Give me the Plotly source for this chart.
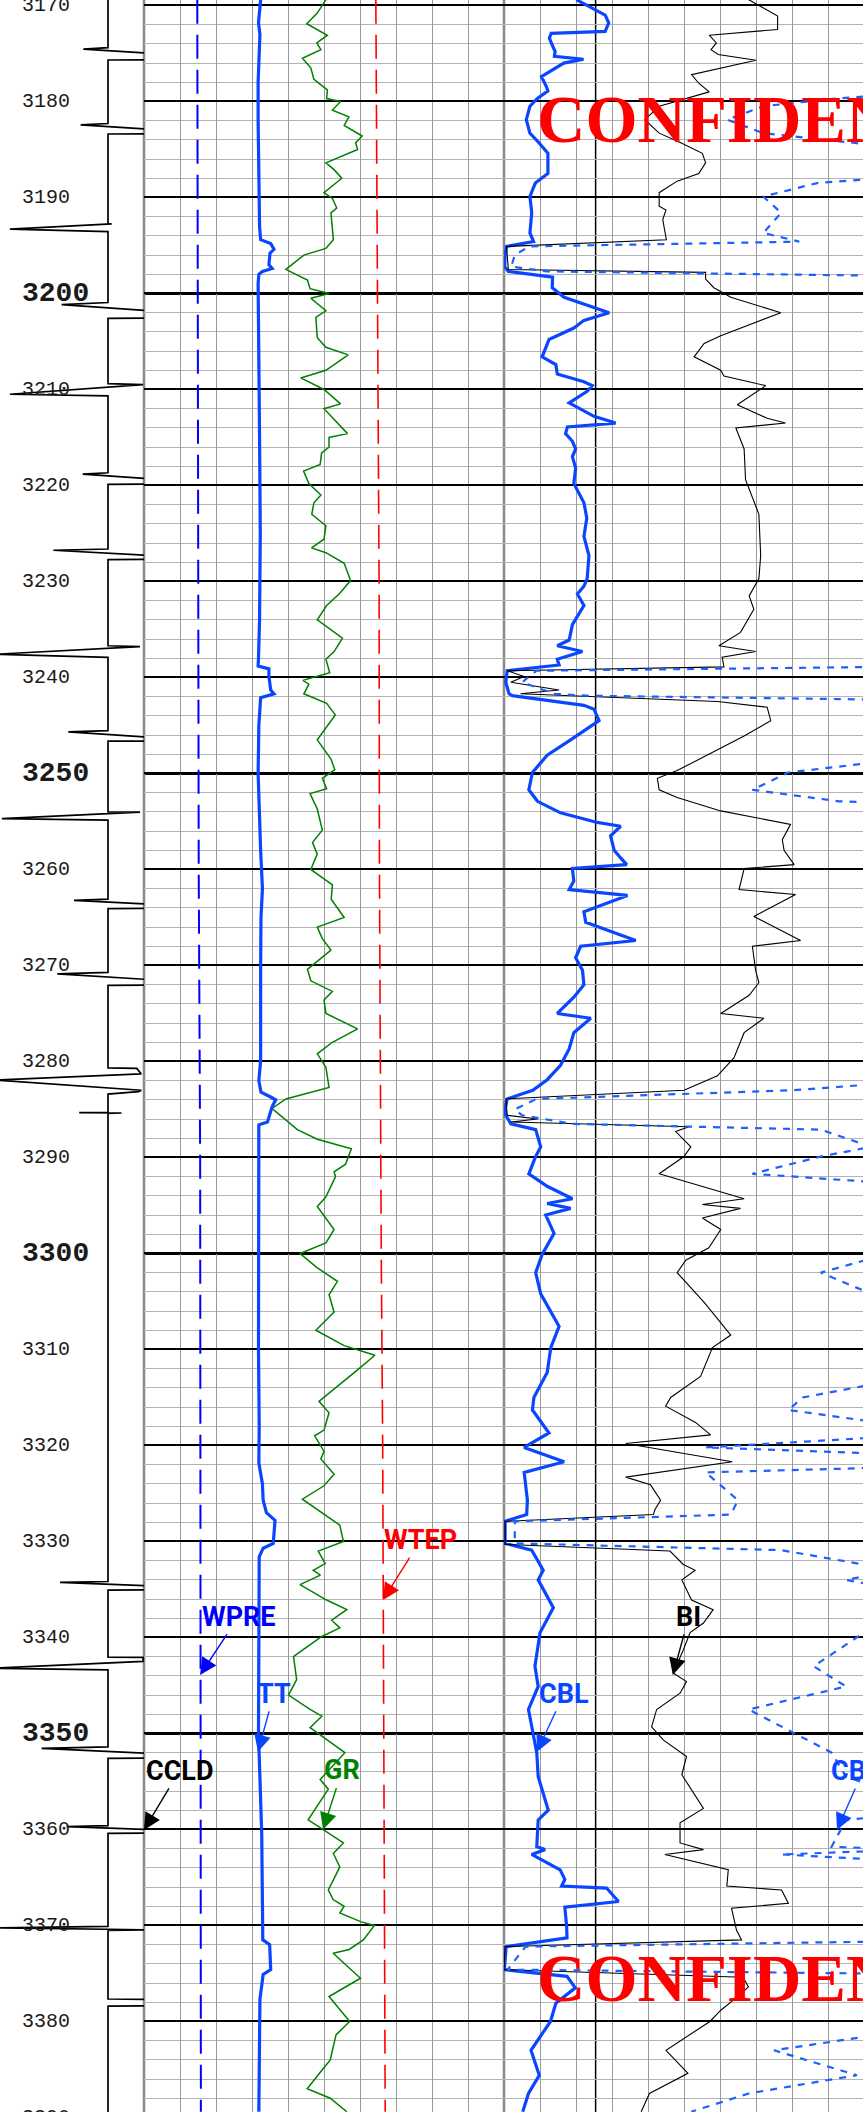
import plotly.graph_objects as go

W, H = 863, 2112
DEPTH_TOP, DEPTH_BOT = 3169.43, 3389.43

depth_labels = [3170, 3180, 3190, 3200, 3210, 3220, 3230, 3240, 3250, 3260, 3270, 3280,
                3290, 3300, 3310, 3320, 3330, 3340, 3350, 3360, 3370, 3380, 3390]
bold_labels = [3200, 3250, 3300, 3350]

# CCLD (casing collar locator), arbitrary units, baseline 0
ccl_depth = [3169.4,
             3174.40, 3174.55, 3174.97, 3175.66, 3175.68,
             3182.30, 3182.43, 3182.88, 3183.37, 3183.39,
             3192.72, 3192.76, 3193.30, 3193.55,
             3200.94, 3201.17, 3201.80, 3202.57, 3202.59,
             3209.40, 3209.50, 3210.50, 3210.66,
             3218.68, 3218.82, 3219.30, 3219.86, 3219.88,
             3226.62, 3226.75, 3227.28, 3227.70, 3227.72,
             3236.70, 3236.78, 3237.58, 3237.90,
             3245.54, 3245.67, 3246.22, 3246.62, 3246.64,
             3254.00, 3254.02, 3254.70, 3254.86,
             3263.09, 3263.22, 3263.62, 3264.06, 3264.08,
             3270.72, 3270.88, 3271.47, 3272.05, 3272.07,
             3280.66, 3280.72, 3281.30, 3281.94, 3283.00, 3283.15, 3283.40,
             3285.30, 3285.33, 3285.37, 3285.40,
             3334.17, 3334.27, 3334.62, 3335.04, 3335.06,
             3342.05, 3342.08, 3342.50, 3343.20, 3343.37,
             3351.40, 3351.55, 3352.07, 3352.57, 3352.59,
             3359.60, 3359.70, 3360.00, 3360.38, 3360.40,
             3370.10, 3370.25, 3370.45, 3370.52,
             3377.66, 3377.70, 3378.38, 3378.40,
             3389.43]
ccl_value = [0,
             0, -2.74, 4.6, 4.6, 0,
             0, -3.04, 4.6, 4.6, 0,
             0, 0.4, -10.9, 0,
             0, -5.15, 4.6, 4.6, 0,
             0, 3.9, -10.9, 0,
             0, -2.81, 4.6, 4.6, 0,
             0, -6.07, 4.6, 4.6, 0,
             0, 3.56, -12.5, 0,
             0, -4.41, 4.6, 4.6, 0,
             0, 3.56, -11.8, 0,
             0, -3.78, 4.6, 4.6, 0,
             0, -5.63, 4.6, 4.6, 0,
             0, 3.2, 3.7, -12.5, 3.7, 3.4, 0,
             0, -3.2, 1.5, 0,
             0, -5.33, 4.6, 4.6, 0,
             0, 3.9, 3.9, -13.0, 0,
             0, -7.37, 4.6, 4.6, 0,
             0, -4.59, 4.6, 4.6, 0,
             0, -12.8, 4.3, 0,
             0, 4.6, 4.6, 0,
             0]

# WPRE (psi)
wpre_depth = [3169.4, 3200, 3230, 3260, 3290, 3320, 3350, 3389.4]
wpre_psi = [740, 745, 755, 760, 780, 785, 790, 790]

# WTEP (deg)
wtep_depth = [3169.4, 3200, 3230, 3260, 3280, 3300, 3320, 3340, 3370, 3389.4]
wtep_deg = [128.8, 129.6, 130.6, 130.8, 131.2, 131.8, 132.6, 133.0, 133.6, 134.0]

# TT (us)
tt_depth = [3169.4, 3171.8, 3173.0, 3176.0, 3178.0, 3182.0, 3186.0, 3190.0, 3193.0, 3194.4,
            3194.8, 3195.4, 3195.8, 3197.0, 3197.4, 3197.7, 3198.0, 3199.0, 3205.0, 3215.0,
            3225.0, 3230.0, 3234.0, 3238.0, 3238.8, 3239.1, 3239.9, 3241.3, 3241.7, 3242.1,
            3245.0, 3250.0, 3255.0, 3258.0, 3262.0, 3265.0, 3270.0, 3275.0, 3279.9, 3282.0,
            3283.2, 3283.7, 3284.0, 3284.7, 3286.3, 3286.6, 3290.0, 3300.0, 3310.0, 3318.0,
            3321.8, 3324.0, 3325.7, 3327.0, 3327.8, 3330.2, 3330.7, 3331.6, 3340.0, 3350.0,
            3360.4, 3366.0, 3371.5, 3372.0, 3374.6, 3375.1, 3377.7, 3389.4]
tt_us = [335.2, 336.4, 335.6, 336.0, 336.6, 336.6, 336.2, 336.0, 335.8, 335.2,
         329.6, 327.8, 330.0, 330.6, 328.8, 334.2, 336.2, 336.6, 336.2, 335.8,
         335.4, 335.4, 335.8, 336.4, 336.6, 330.6, 330.6, 329.6, 327.8, 335.2,
         336.2, 336.6, 336.0, 335.2, 334.2, 335.0, 335.2, 335.2, 335.2, 336.2,
         335.0, 329.6, 326.8, 328.8, 331.4, 336.2, 336.2, 336.6, 336.4, 336.0,
         336.2, 334.2, 333.8, 332.0, 327.2, 328.2, 333.8, 336.0, 336.0, 336.4,
         334.6, 334.2, 334.0, 330.2, 329.6, 333.8, 335.6, 336.2]

# GR (API)
gr_depth = [3169.4, 3170.8, 3171.9, 3173.1, 3173.9, 3174.6, 3175.5, 3176.5, 3177.7, 3178.8,
            3179.7, 3180.0, 3180.9, 3181.6, 3182.5, 3183.6, 3184.3, 3185.0, 3186.4, 3187.1,
            3188.0, 3189.5, 3190.1, 3191.1, 3191.6, 3194.4, 3195.3, 3196.0, 3197.5, 3198.6,
            3199.5, 3200.0, 3200.5, 3201.8, 3202.5, 3204.6, 3205.6, 3206.4, 3208.0, 3208.8,
            3210.0, 3211.5, 3212.0, 3214.6, 3215.0, 3216.0, 3216.6, 3217.8, 3218.5, 3219.8,
            3221.0, 3221.8, 3223.0, 3224.2, 3225.6, 3226.5, 3227.0, 3228.1, 3229.9, 3231.3,
            3232.5, 3234.0, 3235.9, 3237.3, 3238.1, 3239.5, 3240.3, 3240.7, 3241.7, 3242.7,
            3243.9, 3246.5, 3248.5, 3249.6, 3250.5, 3251.6, 3252.1, 3253.7, 3255.9, 3257.2,
            3258.4, 3260.0, 3261.6, 3263.1, 3265.0, 3266.0, 3267.2, 3268.4, 3270.4, 3271.6,
            3272.7, 3273.6, 3275.0, 3276.6, 3278.0, 3279.2, 3280.6, 3282.7, 3283.9, 3284.9,
            3287.1, 3288.1, 3289.1, 3290.7, 3291.5, 3292.0, 3294.1, 3295.1, 3297.5, 3298.9,
            3300.0, 3301.5, 3302.9, 3304.3, 3306.1, 3308.0, 3309.6, 3310.6, 3312.0, 3313.8,
            3315.4, 3316.6, 3318.4, 3319.0, 3320.6, 3321.4, 3323.0, 3324.2, 3325.6, 3328.3,
            3330.0, 3331.0, 3332.3, 3333.0, 3333.5, 3334.5, 3336.1, 3337.1, 3338.2, 3339.0,
            3339.9, 3341.5, 3342.0, 3344.4, 3346.0, 3347.5, 3348.2, 3349.4, 3352.0, 3354.8,
            3355.8, 3359.0, 3360.0, 3361.4, 3362.5, 3363.9, 3366.3, 3367.3, 3368.0, 3368.7,
            3369.6, 3370.0, 3371.5, 3372.5, 3372.9, 3375.5, 3377.4, 3380.0, 3381.4, 3384.0,
            3385.4, 3387.0, 3388.0, 3389.4]
gr_api = [75.8, 72.2, 67.8, 76.4, 72.0, 73.7, 66.0, 69.5, 70.8, 76.4,
          76.1, 81.9, 78.5, 85.4, 83.4, 90.9, 88.2, 89.0, 75.8, 79.2,
          82.4, 75.0, 78.5, 80.3, 77.9, 78.9, 75.8, 66.6, 59.1, 68.1,
          69.2, 77.1, 69.5, 75.8, 71.6, 72.2, 75.8, 85.1, 75.8, 65.3,
          75.0, 81.9, 75.0, 84.8, 77.1, 77.1, 74.0, 73.4, 66.5, 68.7,
          73.7, 70.8, 69.9, 75.8, 75.0, 69.8, 75.8, 83.4, 86.1, 81.3,
          76.1, 72.2, 82.7, 79.2, 75.8, 77.4, 66.2, 68.7, 66.6, 76.1,
          79.7, 72.2, 77.9, 79.5, 74.3, 76.1, 69.2, 72.2, 74.3, 70.2,
          72.2, 69.5, 78.5, 78.0, 83.4, 72.2, 74.3, 77.9, 68.1, 69.5,
          78.5, 75.0, 75.8, 89.0, 78.5, 72.2, 75.8, 77.1, 59.1, 53.4,
          63.9, 72.2, 86.4, 84.0, 79.2, 79.8, 75.8, 72.2, 79.2, 75.8,
          65.0, 72.2, 80.6, 77.1, 79.2, 71.6, 83.4, 96.2, 89.6, 80.6,
          72.9, 77.1, 75.0, 71.1, 75.0, 73.7, 79.2, 75.0, 66.0, 81.6,
          83.1, 72.6, 75.5, 70.5, 73.5, 65.0, 76.1, 84.5, 78.2, 81.6,
          74.1, 65.0, 62.3, 63.6, 60.2, 69.2, 74.1, 69.2, 83.7, 73.4,
          76.8, 68.4, 74.7, 83.1, 78.9, 81.6, 76.8, 78.8, 83.4, 81.6,
          90.2, 96.0, 91.4, 85.5, 78.8, 90.2, 77.1, 85.7, 80.0, 77.6,
          73.1, 68.0, 77.6, 84.5]

# CBL (mV)
cbl_depth = [3169.4, 3171.0, 3171.8, 3172.7, 3172.9, 3173.4, 3174.2, 3174.8, 3175.3, 3175.6,
             3176.0, 3177.4, 3178.4, 3178.9, 3179.7, 3180.5, 3181.9, 3183.3, 3184.3, 3185.4,
             3187.5, 3188.5, 3189.9, 3191.6, 3193.7, 3194.6, 3195.1, 3196.0, 3197.2, 3197.7,
             3198.3, 3199.4, 3200.4, 3201.5, 3202.0, 3202.8, 3203.6, 3204.8, 3206.0, 3206.6,
             3207.4, 3208.4, 3209.2, 3209.6, 3210.2, 3211.4, 3212.8, 3213.5, 3213.9, 3214.6,
             3215.4, 3216.2, 3217.0, 3218.2, 3219.8, 3221.8, 3223.4, 3225.3, 3227.3, 3229.7,
             3230.5, 3231.3, 3232.5, 3234.5, 3236.1, 3236.7, 3237.3, 3238.1, 3238.7, 3239.3,
             3240.5, 3241.7, 3241.9, 3242.9, 3243.3, 3244.5, 3246.5, 3248.1, 3249.9, 3251.7,
             3252.9, 3254.1, 3255.1, 3255.5, 3256.5, 3258.0, 3258.8, 3259.5, 3259.9, 3261.2,
             3262.1, 3262.7, 3264.4, 3265.5, 3267.4, 3268.0, 3269.2, 3270.5, 3272.0, 3273.3,
             3275.0, 3275.5, 3277.0, 3278.7, 3280.4, 3281.9, 3283.0, 3283.9, 3285.0, 3285.6,
             3286.5, 3287.1, 3288.9, 3289.9, 3291.7, 3293.0, 3294.3, 3294.8, 3295.3, 3296.0,
             3297.9, 3300.1, 3302.0, 3304.2, 3307.6, 3309.8, 3312.4, 3315.0, 3316.3, 3318.7,
             3320.2, 3321.7, 3322.8, 3325.7, 3327.2, 3327.9, 3330.2, 3330.9, 3333.0, 3334.0,
             3336.9, 3339.5, 3343.0, 3345.1, 3347.5, 3352.0, 3354.5, 3358.0, 3359.0, 3361.8,
             3362.1, 3362.6, 3364.2, 3365.2, 3365.9, 3366.1, 3367.5, 3368.1, 3370.1, 3371.3,
             3372.2, 3374.6, 3375.3, 3376.5, 3378.1, 3380.0, 3383.0, 3385.6, 3387.5, 3389.4]
cbl_mv = [20.1, 28.1, 29.1, 28.1, 13.1, 12.6, 13.5, 14.2, 14.0, 22.1,
          16.6, 10.4, 11.7, 12.2, 9.2, 7.2, 6.2, 7.2, 9.7, 12.2,
          12.2, 8.7, 7.2, 7.7, 7.2, 8.2, 0.7, 0.3, 0.2, 1.2,
          13.5, 13.4, 16.7, 25.6, 29.2, 22.2, 19.4, 12.5, 11.1, 10.6,
          14.4, 14.8, 22.2, 24.5, 23.1, 18.1, 25.0, 31.0, 17.6, 17.1,
          19.0, 19.9, 19.0, 19.9, 19.4, 22.2, 23.0, 22.2, 23.6, 23.1,
          22.2, 20.4, 22.2, 19.0, 18.1, 14.8, 21.8, 14.8, 15.3, 0.9,
          0.5, 1.4, 2.3, 22.2, 25.0, 26.4, 18.5, 12.0, 7.9, 6.9,
          9.3, 15.7, 25.9, 32.4, 29.6, 30.6, 32.4, 34.1, 19.0, 19.4,
          18.1, 34.3, 22.2, 22.7, 36.6, 21.3, 19.9, 21.8, 22.2, 19.4,
          14.8, 24.1, 19.4, 18.1, 15.7, 12.0, 8.0, 0.9, 0.3, 0.5,
          1.9, 8.8, 10.2, 8.8, 6.9, 12.0, 19.0, 12.0, 18.5, 11.6,
          13.9, 10.6, 8.8, 10.2, 15.3, 13.0, 12.0, 8.3, 7.9, 12.5,
          5.6, 16.7, 5.6, 6.5, 6.3, 0.3, 0.3, 7.7, 10.9, 9.5,
          13.7, 10.0, 8.6, 9.5, 6.8, 9.1, 9.5, 12.3, 9.5, 9.1,
          11.4, 7.7, 15.6, 16.9, 16.0, 28.5, 31.8, 16.9, 17.4, 17.5,
          0.6, 0.1, 17.5, 19.8, 14.4, 12.9, 7.5, 9.8, 6.8, 5.2]

# BI (bond index)
bi_depth = [3169.4, 3171.1, 3172.5, 3173.1, 3173.9, 3174.6, 3175.1, 3175.7, 3177.2, 3178.1,
            3179.0, 3180.5, 3181.9, 3183.3, 3184.3, 3185.4, 3186.4, 3187.5, 3188.3, 3189.5,
            3190.9, 3191.3, 3192.3, 3194.4, 3195.1, 3197.5, 3197.8, 3198.5, 3199.4, 3200.4,
            3202.0, 3203.2, 3204.4, 3205.2, 3206.6, 3208.0, 3208.6, 3209.6, 3211.6, 3213.0,
            3213.5, 3214.0, 3216.2, 3219.4, 3223.0, 3227.3, 3229.7, 3231.5, 3232.9, 3235.3,
            3236.7, 3237.3, 3237.9, 3238.9, 3239.3, 3239.9, 3240.5, 3241.3, 3241.7, 3242.5,
            3243.1, 3244.5, 3246.1, 3249.7, 3250.5, 3251.7, 3252.5, 3253.9, 3255.3, 3256.9,
            3258.0, 3259.5, 3259.9, 3262.1, 3262.6, 3264.9, 3267.4, 3268.0, 3270.5, 3271.8,
            3273.1, 3275.0, 3275.5, 3277.0, 3279.6, 3281.5, 3283.0, 3283.9, 3285.6, 3286.0,
            3286.3, 3286.8, 3287.3, 3288.9, 3289.9, 3291.7, 3294.3, 3294.9, 3295.3, 3296.3,
            3297.5, 3299.4, 3300.7, 3302.0, 3305.1, 3308.5, 3309.8, 3312.8, 3315.0, 3315.9,
            3317.6, 3318.9, 3319.8, 3321.7, 3323.3, 3324.1, 3325.7, 3326.7, 3327.2, 3327.9,
            3330.3, 3331.0, 3332.4, 3333.0, 3334.0, 3336.1, 3337.1, 3338.5, 3339.5, 3341.3,
            3343.7, 3344.6, 3345.8, 3347.5, 3349.3, 3350.7, 3352.4, 3354.3, 3357.8, 3359.3,
            3361.4, 3362.1, 3362.6, 3364.2, 3365.9, 3366.3, 3367.7, 3368.2, 3370.5, 3371.5,
            3372.2, 3374.6, 3375.4, 3376.4, 3377.2, 3378.8, 3380.0, 3383.0, 3385.4, 3387.5,
            3389.4]
bi_val = [0.680, 0.760, 0.760, 0.570, 0.590, 0.575, 0.595, 0.700, 0.521, 0.541,
          0.570, 0.431, 0.391, 0.431, 0.491, 0.551, 0.560, 0.541, 0.481, 0.431,
          0.431, 0.450, 0.441, 0.451, 0.007, 0.012, 0.560, 0.560, 0.583, 0.630,
          0.769, 0.685, 0.602, 0.556, 0.528, 0.602, 0.611, 0.727, 0.648, 0.731,
          0.782, 0.644, 0.667, 0.671, 0.708, 0.713, 0.708, 0.681, 0.694, 0.657,
          0.597, 0.699, 0.606, 0.611, 0.009, 0.056, 0.019, 0.153, 0.046, 0.593,
          0.731, 0.741, 0.667, 0.481, 0.426, 0.431, 0.481, 0.602, 0.796, 0.773,
          0.778, 0.806, 0.667, 0.653, 0.810, 0.694, 0.824, 0.690, 0.699, 0.708,
          0.681, 0.602, 0.722, 0.667, 0.639, 0.593, 0.500, 0.005, 0.009, 0.093,
          0.019, 0.514, 0.477, 0.519, 0.500, 0.431, 0.667, 0.551, 0.657, 0.551,
          0.602, 0.569, 0.505, 0.481, 0.556, 0.630, 0.579, 0.546, 0.463, 0.449,
          0.532, 0.574, 0.338, 0.634, 0.338, 0.407, 0.435, 0.419, 0.415, 0.003,
          0.003, 0.461, 0.498, 0.531, 0.494, 0.521, 0.581, 0.554, 0.517, 0.498,
          0.470, 0.507, 0.489, 0.424, 0.410, 0.443, 0.507, 0.494, 0.554, 0.489,
          0.489, 0.554, 0.447, 0.623, 0.619, 0.771, 0.790, 0.632, 0.646, 0.660,
          0.003, 0.000, 0.664, 0.679, 0.656, 0.603, 0.572, 0.450, 0.511, 0.404,
          0.381]

# ---------------- figure ----------------
T1 = (144 / W, 504 / W)
T2 = (504 / W, 1.0)
T2_FRAC = (W - 504) / 360.0   # visible part of track 2

BLUE = '#0a46ff'
fig = go.Figure()

fig.add_trace(go.Scatter(x=wpre_psi, y=wpre_depth, xaxis='x2', yaxis='y', mode='lines',
                         line=dict(color='#0000ff', width=2, dash='24px,11px'), name='WPRE'))
fig.add_trace(go.Scatter(x=gr_api, y=gr_depth, xaxis='x3', yaxis='y', mode='lines',
                         line=dict(color='#008000', width=1.5), name='GR'))
fig.add_trace(go.Scatter(x=tt_us, y=tt_depth, xaxis='x4', yaxis='y', mode='lines',
                         line=dict(color=BLUE, width=3.2), name='TT'))
fig.add_trace(go.Scatter(x=wtep_deg, y=wtep_depth, xaxis='x5', yaxis='y', mode='lines',
                         line=dict(color='#ff0000', width=1.6, dash='24px,11px'), name='WTEP'))
fig.add_trace(go.Scatter(x=cbl_mv, y=cbl_depth, xaxis='x6', yaxis='y', mode='lines',
                         line=dict(color=BLUE, width=3.2), name='CBL'))
fig.add_trace(go.Scatter(x=bi_val, y=bi_depth, xaxis='x7', yaxis='y', mode='lines',
                         line=dict(color='black', width=1.1), name='BI'))
fig.add_trace(go.Scatter(x=cbl_mv, y=cbl_depth, xaxis='x8', yaxis='y', mode='lines',
                         line=dict(color='#1f5fff', width=2.2, dash='7px,7px'), name='CBLF'))
fig.add_trace(go.Scatter(x=ccl_value, y=ccl_depth, xaxis='x', yaxis='y2', mode='lines',
                         line=dict(color='black', width=1.7), name='CCLD'))

hidden = dict(visible=False, showgrid=False, zeroline=False)
grid_x = dict(showgrid=True, gridcolor='#9a9a9a', gridwidth=1.4, zeroline=False,
              showticklabels=False, ticks='', showline=False)

fig.update_layout(
    width=W, height=H, autosize=False,
    margin=dict(l=0, r=0, t=0, b=0, pad=0),
    paper_bgcolor='white', plot_bgcolor='rgba(0,0,0,0)',
    showlegend=False,
    xaxis=dict(domain=[0, 144 / W], range=[-12, 4], anchor='y2', **hidden),
    yaxis2=dict(domain=[0, 1], range=[DEPTH_BOT, DEPTH_TOP], anchor='x', **hidden),
    xaxis2=dict(domain=list(T1), range=[0, 5000], tick0=0, dtick=500, anchor='y', **grid_x),
    xaxis3=dict(overlaying='x2', range=[0, 150], anchor='y', **hidden),
    xaxis4=dict(overlaying='x2', range=[400, 200], anchor='y', **hidden),
    xaxis5=dict(overlaying='x2', range=[0, 200], anchor='y', **hidden),
    xaxis6=dict(domain=list(T2), range=[0, 100 * T2_FRAC], tick0=0, dtick=10, anchor='y', **grid_x),
    xaxis7=dict(overlaying='x6', range=[0, 1 * T2_FRAC], anchor='y', **hidden),
    xaxis8=dict(overlaying='x6', range=[0, 10 * T2_FRAC], anchor='y', **hidden),
    yaxis=dict(domain=[0, 1], range=[DEPTH_BOT, DEPTH_TOP], tick0=3170, dtick=10,
               showgrid=True, gridcolor='black', gridwidth=1.5, zeroline=False,
               showticklabels=False, ticks='', showline=False, anchor='x2',
               minor=dict(tick0=3170, dtick=2, showgrid=True, gridcolor='#b4b4b4', gridwidth=1)),
)

shapes = []
for d in bold_labels:
    shapes.append(dict(type='line', xref='paper', yref='y', x0=144 / W, x1=1, y0=d, y1=d,
                       line=dict(color='black', width=3), layer='between'))
for xb in (144 / W, 504 / W):
    shapes.append(dict(type='line', xref='paper', yref='paper', x0=xb, x1=xb, y0=0, y1=1,
                       line=dict(color='#888888', width=2.5), layer='between'))
shapes.append(dict(type='line', xref='x6', yref='paper', x0=25.45, x1=25.45, y0=0, y1=1,
                   line=dict(color='black', width=1.5), layer='between'))
fig.update_layout(shapes=shapes)

ann = []
for d in depth_labels:
    bold = d in bold_labels
    ypaper = (DEPTH_BOT - d) / (DEPTH_BOT - DEPTH_TOP)
    ann.append(dict(x=19.5 / W, xref='paper', y=ypaper, yref='paper',
                    xanchor='left', yanchor='middle',
                    text=f'<b>{d}</b>' if bold else str(d), showarrow=False,
                    font=dict(family='Liberation Mono, DejaVu Sans Mono, monospace',
                              size=28 if bold else 20, color='#1a1a1a')))

LBL_FONT = 'Roboto, Liberation Sans, Arial, sans-serif'
labels = [
    # text, color, xref, yref, x, depth, ax, ay
    ('CCLD', 'black', 'x', 'y2', 4.0, 3360.05, 35.5, -59),
    ('WPRE', '#0000ff', 'x2', 'y', 778, 3343.9, 38.5, -58),
    ('TT', BLUE, 'x4', 'y', 336.7, 3351.9, 16, -58),
    ('GR', '#008000', 'x3', 'y', 74.6, 3360.0, 19, -59),
    ('WTEP', '#ff0000', 'x5', 'y', 132.8, 3336.1, 37.5, -60),
    ('CBL', BLUE, 'x6', 'y', 9.17, 3351.9, 27, -58),
    ('BI', 'black', 'x7', 'y', 0.469, 3343.9, 16, -58),
    ('CBLF', BLUE, 'x8', 'y', 9.25, 3360.05, 43, -59),
]
for text, col, xr, yr, xv, dv, ax, ay in labels:
    ann.append(dict(x=xv, xref=xr, y=dv, yref=yr, text=text, showarrow=True,
                    ax=ax, ay=ay, arrowhead=2, arrowsize=2.4, arrowwidth=1.4,
                    arrowcolor=col,
                    font=dict(family=LBL_FONT, size=27, color=col, weight='bold')))

for ypix in (119, 1978):
    ann.append(dict(x=535 / W, xref='paper', y=1 - ypix / H, yref='paper',
                    xanchor='left', yanchor='middle', showarrow=False,
                    text='<b>CONFIDENTIAL</b>',
                    font=dict(family='Liberation Serif, Times New Roman, serif', size=67,
                              color='#ff0000')))
fig.update_layout(annotations=ann)

fig.write_html("out.html", include_plotlyjs=True, full_html=True,
               config={'displayModeBar': False},
               post_script="document.body.style.margin='0';document.body.style.overflow='hidden';")
